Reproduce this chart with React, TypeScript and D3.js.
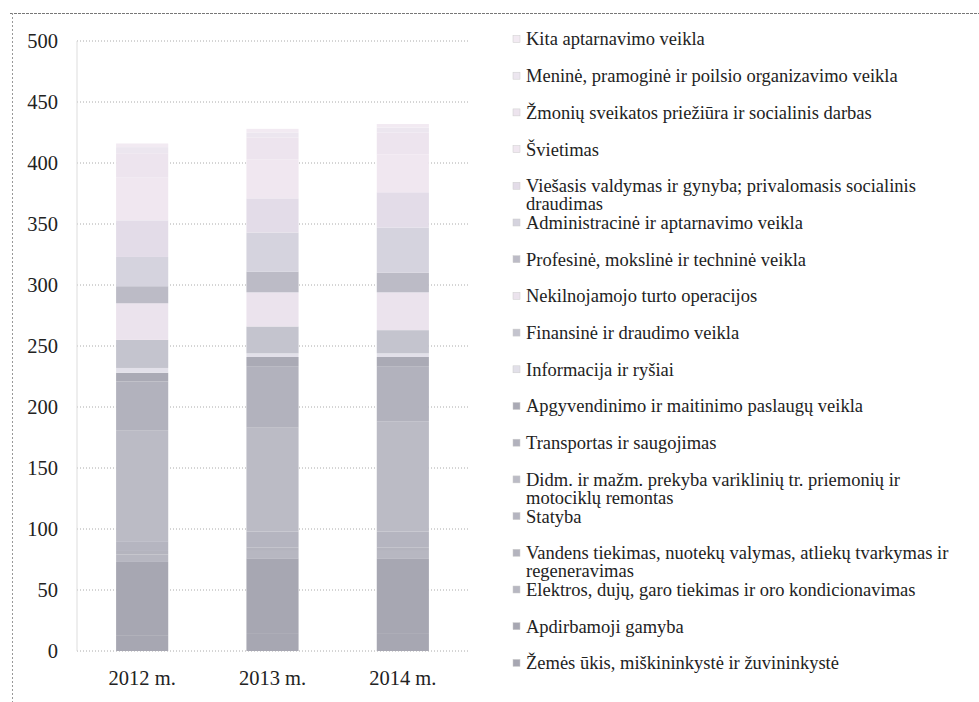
import React from "react";
import * as d3 from "d3";

// years on the x axis
const years = ["2012 m.", "2013 m.", "2014 m."];

// series, bottom of the stack first
const seriesNames = [
  "Žemės ūkis, miškininkystė ir žuvininkystė",
  "Apdirbamoji gamyba",
  "Elektros, dujų, garo tiekimas ir oro kondicionavimas",
  "Vandens tiekimas, nuotekų valymas, atliekų tvarkymas ir\nregeneravimas",
  "Statyba",
  "Didm. ir mažm. prekyba variklinių tr. priemonių ir\nmotociklų remontas",
  "Transportas ir saugojimas",
  "Apgyvendinimo ir maitinimo paslaugų veikla",
  "Informacija ir ryšiai",
  "Finansinė ir draudimo veikla",
  "Nekilnojamojo turto operacijos",
  "Profesinė, mokslinė ir techninė veikla",
  "Administracinė ir aptarnavimo veikla",
  "Viešasis valdymas ir gynyba; privalomasis socialinis\ndraudimas",
  "Švietimas",
  "Žmonių sveikatos priežiūra ir socialinis darbas",
  "Meninė, pramoginė ir poilsio organizavimo veikla",
  "Kita aptarnavimo veikla",
];

// values per year, same order as seriesNames
const values2012 = [13, 60, 6, 3, 8, 91, 40, 7, 4, 23, 30, 14, 24, 30, 35, 20, 5, 3];
const values2013 = [14, 62, 6, 3, 13, 85, 50, 8, 3, 22, 28, 17, 32, 28, 32, 18, 4, 3];
const values2014 = [14, 62, 6, 3, 13, 90, 45, 8, 3, 19, 31, 16, 37, 29, 31, 18, 4, 3];

const seriesColors = [
  "#a7a7b2", "#a7a7b2", "#b7b7c1", "#b4b4be", "#b5b5c0", "#bbbbc5",
  "#b2b2bd", "#aaaab5", "#e2e0e9", "#c4c4ce", "#ebe3ed", "#bcbbc6",
  "#d5d3de", "#e3dce8", "#f0e7f0", "#ede4ee", "#ece6ef", "#f2eaf2",
];

const yTicks = [0, 50, 100, 150, 200, 250, 300, 350, 400, 450, 500];

export default function App() {
  const width = 979, height = 702;
  const plotLeft = 77, plotRight = 468, plotTop = 41, plotBottom = 651;

  const table = years.map((yr, i) => {
    const row: any = { year: yr };
    const vals = [values2012, values2013, values2014][i];
    seriesNames.forEach((s, j) => { row[s] = vals[j]; });
    return row;
  });

  const stacked = d3.stack().keys(seriesNames)(table);

  const x = d3.scaleBand().domain(years).range([plotLeft, plotRight]).paddingInner(0.6).paddingOuter(0.3);
  const y = d3.scaleLinear().domain([0, 500]).range([plotBottom, plotTop]);

  const legendX = 513;
  const legendTop = 39;
  const legendStep = 36.7;
  const legendOrder = seriesNames.map((s, i) => i).reverse();

  const serif = "'Liberation Serif', 'Times New Roman', serif";

  return (
    <svg width={width} height={height} style={{ position: "absolute", left: 0, top: 0, background: "#fff" }}>
      {/* frame */}
      <line x1={10} x2={979} y1={13.5} y2={13.5} stroke="#777" strokeDasharray="3,1" />
      <line x1={12.5} x2={12.5} y1={13} y2={702} stroke="#999" strokeDasharray="2,2" />

      {/* gridlines */}
      {yTicks.map((t) => (
        <line key={t} x1={plotLeft} x2={plotRight} y1={y(t)} y2={y(t)} stroke="#aaa" strokeDasharray="1,2" />
      ))}
      <line x1={plotLeft} x2={plotLeft} y1={plotTop} y2={plotBottom} stroke="#ddd" />

      {/* y labels */}
      {yTicks.map((t) => (
        <text key={t} x={58} y={y(t)} dy="0.35em" textAnchor="end" fontFamily={serif} fontSize={20.5} fill="#222">
          {t}
        </text>
      ))}

      {/* bars */}
      {stacked.map((layer, i) => (
        <g key={layer.key} fill={seriesColors[i]}>
          {layer.map((d, j) => (
            <rect key={j} x={x(years[j])} width={x.bandwidth()} y={y(d[1])} height={y(d[0]) - y(d[1])} />
          ))}
        </g>
      ))}

      {/* x labels */}
      {years.map((yr) => (
        <text key={yr} x={(x(yr) as number) + x.bandwidth() / 2} y={685} textAnchor="middle" fontFamily={serif} fontSize={20.5} fill="#222">
          {yr}
        </text>
      ))}

      {/* legend */}
      {legendOrder.map((si, k) => {
        const cy = legendTop + k * legendStep;
        const lines = seriesNames[si].split("\n");
        return (
          <g key={si}>
            <rect x={legendX} y={cy - 3.5} width={7} height={7} fill={seriesColors[si]} stroke="#ccc" strokeWidth={0.5} />
            <text x={legendX + 13} y={cy} fontFamily={serif} fontSize={18.5} fill="#222">
              {lines.map((ln, li) => (
                <tspan key={li} x={legendX + 13} dy={li === 0 ? "0.35em" : 18}>{ln}</tspan>
              ))}
            </text>
          </g>
        );
      })}
    </svg>
  );
}
